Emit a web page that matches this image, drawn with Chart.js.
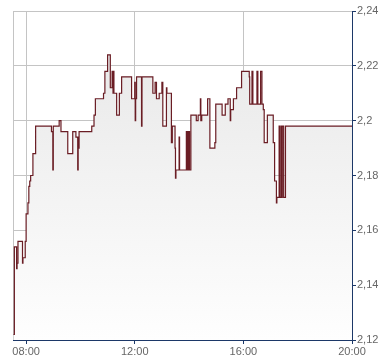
<!DOCTYPE html>
<html>
<head>
<meta charset="utf-8">
<script src="https://cdn.jsdelivr.net/npm/chart.js@4/dist/chart.umd.min.js"></script>
<style>
  html, body { margin: 0; padding: 0; background: #fff; }
  #wrap { width: 390px; height: 364px; }
</style>
</head>
<body>
<div id="wrap"><canvas id="chart"></canvas></div>
<script>
// trade times (HH:MM) and prices
const times = [
    '07:32', '07:34', '07:39', '07:40', '07:42', '07:52', '07:53', '07:58',
    '08:00', '08:04', '08:06', '08:08', '08:10', '08:15', '08:21', '08:56',
    '08:59', '09:00', '09:13', '09:17', '09:32', '09:43', '09:50', '09:54',
    '09:55', '09:56', '09:57', '10:25', '10:30', '10:33', '10:51', '10:54',
    '11:00', '11:06', '11:10', '11:12', '11:13', '11:14', '11:20', '11:26',
    '11:31', '11:53', '12:00', '12:01', '12:02', '12:04', '12:15', '12:16',
    '12:40', '12:45', '12:48', '12:54', '13:00', '13:02', '13:10', '13:11',
    '13:21', '13:23', '13:29', '13:30', '13:31', '13:38', '13:39', '13:54',
    '13:55', '13:57', '13:58', '14:00', '14:01', '14:04', '14:16', '14:20',
    '14:25', '14:26', '14:28', '14:41', '14:46', '14:57', '14:59', '15:13',
    '15:20', '15:26', '15:31', '15:32', '15:38', '15:45', '15:56', '16:13',
    '16:14', '16:19', '16:21', '16:30', '16:32', '16:38', '16:41', '16:44',
    '16:46', '16:53', '17:06', '17:09', '17:13', '17:14', '17:19', '17:21',
    '17:24', '17:25', '17:26', '17:29', '17:33', '20:00'
];
const prices = [
    2.122, 2.154, 2.146, 2.148, 2.156, 2.148, 2.150, 2.156,
    2.166, 2.170, 2.176, 2.178, 2.180, 2.188, 2.198, 2.196,
    2.182, 2.198, 2.200, 2.196, 2.188, 2.196, 2.194, 2.182,
    2.194, 2.190, 2.196, 2.198, 2.202, 2.208, 2.210, 2.218,
    2.224, 2.212, 2.218, 2.210, 2.218, 2.210, 2.202, 2.210,
    2.216, 2.208, 2.214, 2.200, 2.208, 2.216, 2.198, 2.216,
    2.210, 2.214, 2.208, 2.210, 2.214, 2.198, 2.212, 2.210,
    2.192, 2.198, 2.190, 2.179, 2.182, 2.194, 2.182, 2.196,
    2.182, 2.196, 2.182, 2.196, 2.182, 2.202, 2.200, 2.202,
    2.208, 2.200, 2.202, 2.208, 2.190, 2.192, 2.206, 2.202,
    2.206, 2.208, 2.200, 2.204, 2.208, 2.212, 2.218, 2.216,
    2.206, 2.218, 2.206, 2.218, 2.206, 2.218, 2.206, 2.204,
    2.192, 2.202, 2.192, 2.178, 2.170, 2.172, 2.198, 2.172,
    2.198, 2.172, 2.198, 2.172, 2.198, 2.198
];
const xTickLabels = ['08:00', '12:00', '16:00', '20:00'];
const yMin = 2.12;
const yMax = 2.24;
const yStep = 0.02;

function toMinutes(hhmm) {
    const parts = hhmm.split(':');
    return parseInt(parts[0], 10) * 60 + parseInt(parts[1], 10);
}

function fmtTime(m) {
    const h = Math.floor(m / 60);
    const mm = m % 60;
    return String(h).padStart(2, '0') + ':' + String(mm).padStart(2, '0');
}

const points = times.map((t, i) => ({ x: toMinutes(t), y: prices[i] }));
const xTicks = xTickLabels.map(toMinutes);

const navy = '#1c3868';
const gridGray = '#c4c4c4';

// gray frame on the left edge (the top one comes from the 2,24 grid line)
const frameLeft = {
    id: 'frameLeft',
    beforeDatasetsDraw(chart) {
        const a = chart.chartArea;
        const ctx = chart.ctx;
        ctx.save();
        ctx.strokeStyle = gridGray;
        ctx.lineWidth = 1;
        ctx.beginPath();
        ctx.moveTo(Math.round(a.left) + 0.5, a.top);
        ctx.lineTo(Math.round(a.left) + 0.5, a.bottom);
        ctx.stroke();
        ctx.restore();
    }
};

const ctx = document.getElementById('chart').getContext('2d');
new Chart(ctx, {
    type: 'line',
    data: {
        datasets: [{
            data: points,
            stepped: true,
            borderColor: '#6a1d24',
            borderWidth: 1.2,
            pointRadius: 0,
            fill: 'start',
            backgroundColor: function (context) {
                const area = context.chart.chartArea;
                if (!area) return 'rgba(235,235,235,1)';
                const g = context.chart.ctx.createLinearGradient(0, area.top, 0, area.bottom);
                g.addColorStop(0, '#e6e6e6');
                g.addColorStop(1, '#fefefe');
                return g;
            }
        }]
    },
    options: {
        responsive: true,
        maintainAspectRatio: false,
        animation: false,
        layout: { padding: { left: 13, top: 11, right: 0, bottom: 0 } },
        plugins: {
            legend: { display: false },
            tooltip: { enabled: false }
        },
        scales: {
            x: {
                type: 'linear',
                min: toMinutes('07:31'),
                max: toMinutes('20:00'),
                afterBuildTicks: (scale) => {
                    scale.ticks = xTicks.map(v => ({ value: v }));
                },
                afterFit: (scale) => { scale.height = 24; },
                grid: {
                    color: gridGray,
                    tickColor: navy,
                    tickLength: 4,
                    drawTicks: true
                },
                border: { color: navy, width: 1 },
                ticks: {
                    autoSkip: false,
                    maxRotation: 0,
                    padding: 1,
                    color: '#666',
                    font: { family: 'Liberation Sans, Arial, sans-serif', size: 11 },
                    callback: (v) => fmtTime(v)
                }
            },
            y: {
                position: 'right',
                min: yMin,
                max: yMax,
                afterFit: (scale) => { scale.width = 38; },
                grid: {
                    color: gridGray,
                    tickColor: navy,
                    tickLength: 4
                },
                border: { color: navy, width: 1 },
                ticks: {
                    stepSize: yStep,
                    padding: 1,
                    color: '#666',
                    font: { family: 'Liberation Sans, Arial, sans-serif', size: 11 },
                    callback: (v) => String(Math.round(v * 100) / 100).replace('.', ',')
                }
            }
        }
    },
    plugins: [frameLeft]
});
</script>
</body>
</html>
